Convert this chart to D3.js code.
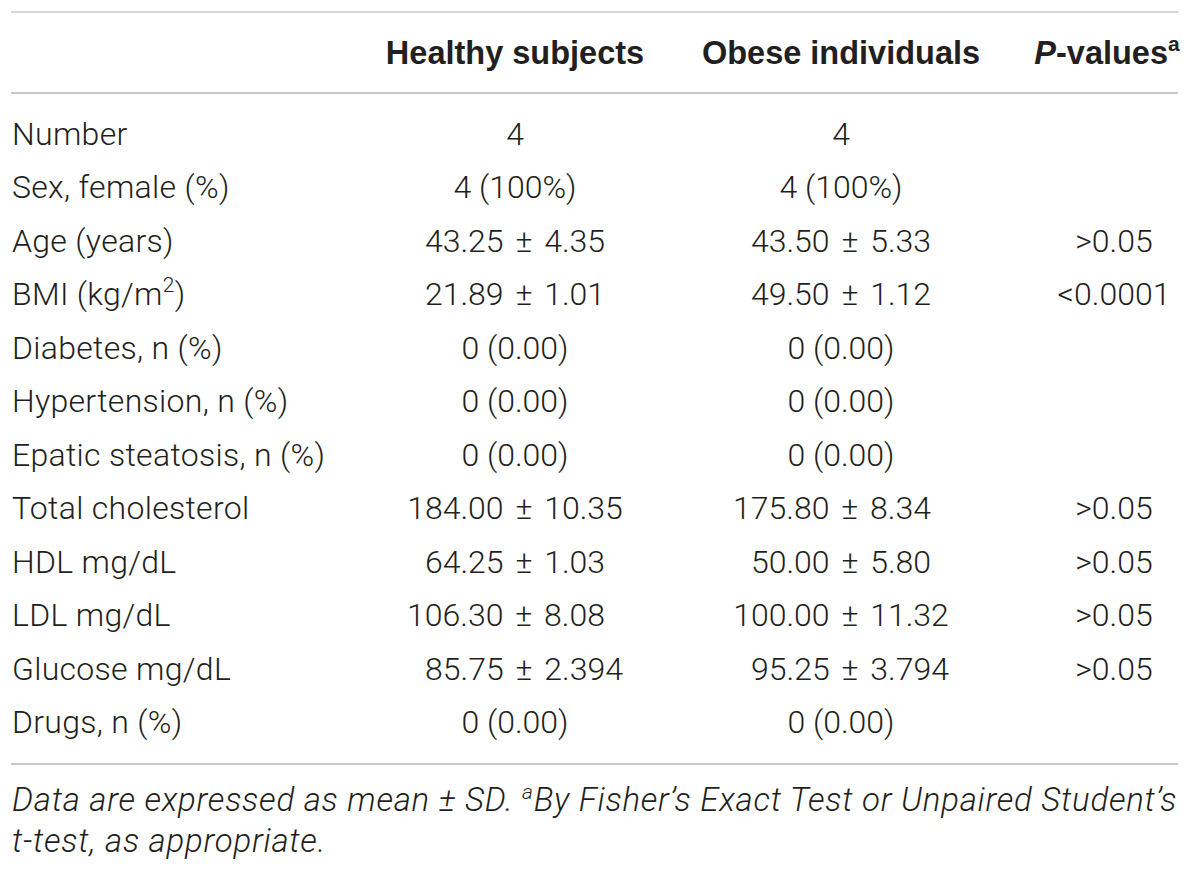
<html>
<head>
  <meta charset="utf-8" />
  <title>Subject characteristics</title>
<script src="https://d3js.org/d3.v7.min.js"></script>
</head>
<style>
  body { margin: 0; background: #fff; }
  svg { display: block; }
  .body-text { font-family: "Roboto", "Liberation Sans", sans-serif; font-weight: 300; fill: #231f20; }
  .head-text { font-family: "Liberation Sans", Arial, sans-serif; font-weight: bold; fill: #231f20; }
</style>
<body>
<svg class="main" width="1200" height="869"></svg>
<script>

const rowLabels = [
  "Number", "Sex, female (%)", "Age (years)", "BMI (kg/m2)", "Diabetes, n (%)",
  "Hypertension, n (%)", "Epatic steatosis, n (%)", "Total cholesterol",
  "HDL mg/dL", "LDL mg/dL", "Glucose mg/dL", "Drugs, n (%)"
]

const healthy = [
  "4", "4 (100%)", "43.25 ± 4.35", "21.89 ± 1.01", "0 (0.00)", "0 (0.00)", "0 (0.00)",
  "184.00 ± 10.35", "64.25 ± 1.03", "106.30 ± 8.08\u2007", "\u200785.75 ± 2.394", "0 (0.00)"
]

const obese = [
  "4", "4 (100%)", "43.50 ± 5.33", "49.50 ± 1.12", "0 (0.00)", "0 (0.00)", "0 (0.00)",
  "175.80 ± 8.34\u2007", "50.00 ± 5.80", "100.00 ± 11.32", "\u200795.25 ± 3.794", "0 (0.00)"
]

const pValues = [
  "", "", ">0.05", "<0.0001", "", "", "", ">0.05", ">0.05", ">0.05", ">0.05", ""
]

const headers = ["Healthy subjects", "Obese individuals", "P-values"]

const footLines = [
  "Data are expressed as mean ± SD. |a|By Fisher’s Exact Test or Unpaired Student’s",
  "t-test, as appropriate."
]

const svg = d3.select("svg")

const y = d3.scalePoint()
  .domain(rowLabels)
  .range([145, 733])

const x = d3.scaleOrdinal()
  .domain(["label", "healthy", "obese", "p"])
  .range([12, 515, 841, 1114])

// rules
const rules = [12, 93, 764]
svg.selectAll("line.rule")
  .data(rules)
  .enter()
  .append("line")
  .attr("class", "rule")
  .attr("x1", 11)
  .attr("x2", 1178)
  .attr("y1", d => d)
  .attr("y2", d => d)
  .style("stroke", (d, i) => i === 0 ? "#d6d6d6" : "#c8c8c8")
  .style("stroke-width", 2)

// header
const headG = svg.append("g").attr("class", "head-text").style("font-size", "32.5px")
const headX = [515, 841, 1107]
headers.forEach((h, i) => {
  const t = headG.append("text")
    .attr("x", headX[i])
    .attr("y", 64)
    .attr("text-anchor", "middle")
  if (i === 2) {
    t.append("tspan").style("font-style", "italic").text("P")
    t.append("tspan").text("-values")
    t.append("tspan").attr("dy", -13).style("font-size", "21px").text("a")
  } else {
    t.text(h)
  }
})

// body
const bodyG = svg.append("g").attr("class", "body-text").style("font-size", "32px")

bodyG.selectAll("text.label")
  .data(rowLabels)
  .enter()
  .append("text")
  .attr("class", "label")
  .attr("x", x("label"))
  .attr("y", d => y(d))
  .style("letter-spacing", "0.3px")
  .each(function(d) {
    const t = d3.select(this)
    if (d.indexOf("m2") >= 0) {
      const parts = d.split("m2")
      t.append("tspan").text(parts[0] + "m")
      t.append("tspan").attr("dy", -13).style("font-size", "21px").text("2")
      t.append("tspan").attr("dy", 13).text(parts[1])
    } else {
      t.text(d)
    }
  })

const cols = [["healthy", healthy], ["obese", obese], ["p", pValues]]
cols.forEach(([key, vals]) => {
  bodyG.selectAll("text." + key)
    .data(vals)
    .enter()
    .append("text")
    .attr("class", key)
    .attr("x", x(key))
    .attr("y", (d, i) => y(rowLabels[i]))
    .attr("text-anchor", "middle")
    .style("white-space", "pre")
    .style("word-spacing", d => d.includes("±") ? "4px" : null)
    .text(d => d)
})

// footnote
const footG = svg.append("g").attr("class", "body-text")
  .style("font-size", "33px").style("font-style", "italic")
  .style("letter-spacing", "0.75px")
footLines.forEach((line, i) => {
  const t = footG.append("text").attr("x", 12).attr("y", 811 + i * 41)
  const parts = line.split("|")
  if (parts.length === 3) {
    t.append("tspan").text(parts[0])
    t.append("tspan").attr("dy", -12).style("font-size", "21px").text(parts[1])
    t.append("tspan").attr("dy", 12).text(parts[2])
  } else {
    t.text(line)
  }
})

</script>
</body>
</html>
